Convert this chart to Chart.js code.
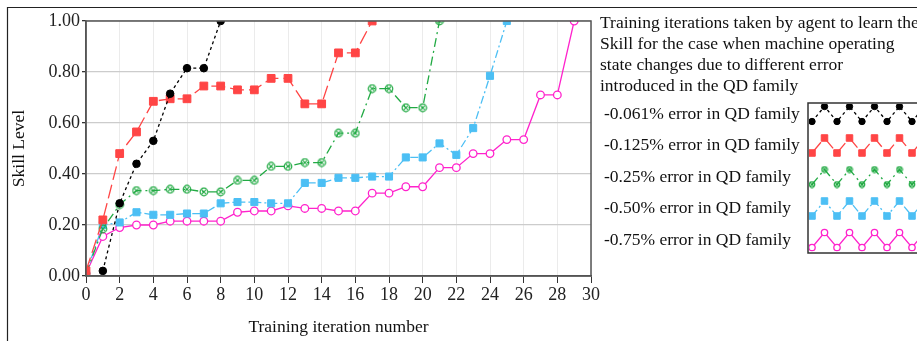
<!DOCTYPE html>
<html>
<head>
<meta charset="utf-8">
<script src="https://cdn.jsdelivr.net/npm/chart.js@4.4.1/dist/chart.umd.min.js"></script>
<style>
  html, body { margin: 0; padding: 0; background: #fff; }
  canvas { display: block; }
</style>
</head>
<body>
<canvas id="skillChart" width="917" height="341"></canvas>
<script>
// iteration numbers on the x axis
const iterations = [0, 1, 2, 3, 4, 5, 6, 7, 8, 9, 10, 11, 12, 13, 14, 15, 16, 17, 18, 19, 20, 21, 22, 23, 24, 25, 26, 27, 28, 29];

// skill level per iteration, one list per error case
const err0061 = [null, 0.02, 0.285, 0.44, 0.53, 0.715, 0.815, 0.815, 1.0];
const err0125 = [0.02, 0.22, 0.48, 0.565, 0.685, 0.695, 0.695, 0.745, 0.745, 0.73, 0.73, 0.775, 0.775, 0.675, 0.675, 0.875, 0.875, 1.0];
const err025 = [0.01, 0.185, 0.28, 0.335, 0.335, 0.34, 0.34, 0.33, 0.33, 0.375, 0.375, 0.43, 0.43, 0.445, 0.445, 0.56, 0.56, 0.735, 0.735, 0.66, 0.66, 1.0];
const err050 = [0.01, 0.2, 0.21, 0.25, 0.24, 0.24, 0.245, 0.245, 0.285, 0.29, 0.29, 0.285, 0.285, 0.365, 0.365, 0.385, 0.385, 0.39, 0.39, 0.465, 0.465, 0.52, 0.475, 0.58, 0.785, 1.0];
const err075 = [0.01, 0.155, 0.19, 0.2, 0.2, 0.215, 0.215, 0.215, 0.215, 0.25, 0.255, 0.255, 0.275, 0.265, 0.265, 0.255, 0.255, 0.325, 0.325, 0.35, 0.35, 0.425, 0.425, 0.48, 0.48, 0.535, 0.535, 0.71, 0.71, 1.0];

const seriesLabels = [
    '-0.061% error in QD family',
    '-0.125% error in QD family',
    '-0.25% error in QD family',
    '-0.50% error in QD family',
    '-0.75% error in QD family'
];
const noteLines = [
    'Training iterations taken by agent to learn the',
    'Skill for the case when machine operating',
    'state changes due to different error',
    'introduced in the QD family'
];
const xTicks = [0, 2, 4, 6, 8, 10, 12, 14, 16, 18, 20, 22, 24, 26, 28, 30];
const yTicks = [0, 0.2, 0.4, 0.6, 0.8, 1.0];

const SERIF = "'Liberation Serif', 'Times New Roman', serif";

function toPoints(values) {
    return values.map((v, i) => ({ x: iterations[i], y: v }));
}

// green marker: circle with a cross inside
function crossCircle(color, size) {
    const c = document.createElement('canvas');
    c.width = size; c.height = size;
    const g = c.getContext('2d');
    const m = size / 2, r = size / 2 - 1.2, d = r * 0.62;
    g.strokeStyle = color;
    g.lineWidth = 1.2;
    g.beginPath();
    g.arc(m, m, r, 0, Math.PI * 2);
    g.stroke();
    g.beginPath();
    g.moveTo(m - d, m - d); g.lineTo(m + d, m + d);
    g.moveTo(m + d, m - d); g.lineTo(m - d, m + d);
    g.stroke();
    return c;
}

const colors = ['#000000', '#ff4545', '#22aa44', '#4cbff4', '#ff22cc'];
const greenMark = crossCircle(colors[2], 10);
const greenMarkSmall = crossCircle(colors[2], 8);

const datasets = [
    { label: seriesLabels[0], data: toPoints(err0061), borderColor: colors[0], backgroundColor: colors[0],
      borderDash: [3, 3], pointStyle: 'circle', pointRadius: 3.8, legendStyle: 'circle', legendRadius: 3.2 },
    { label: seriesLabels[1], data: toPoints(err0125), borderColor: colors[1], backgroundColor: colors[1],
      borderDash: [14, 5], pointStyle: 'rect', pointRadius: 5.5, legendStyle: 'rect', legendRadius: 4.6 },
    { label: seriesLabels[2], data: toPoints(err025), borderColor: colors[2], backgroundColor: '#ffffff',
      borderDash: [9, 4, 2, 4], pointStyle: greenMark, pointRadius: 5, legendStyle: greenMarkSmall, legendRadius: 4 },
    { label: seriesLabels[3], data: toPoints(err050), borderColor: colors[3], backgroundColor: colors[3],
      borderDash: [8, 3, 2, 3], pointStyle: 'rect', pointRadius: 5, legendStyle: 'rect', legendRadius: 4.6 },
    { label: seriesLabels[4], data: toPoints(err075), borderColor: colors[4], backgroundColor: '#ffffff',
      borderDash: [], pointStyle: 'circle', pointRadius: 3.8, pointBorderWidth: 1.3, legendStyle: 'circle', legendRadius: 3.2 }
];
datasets.forEach(ds => {
    ds.borderWidth = 1.3;
    ds.tension = 0;
    ds.spanGaps = false;
    ds.pointBorderColor = ds.borderColor;
    if (ds.pointBorderWidth === undefined) ds.pointBorderWidth = 1;
    ds.pointBackgroundColor = ds.backgroundColor;
});

// frame, outer border, side note and zigzag legend
const decorPlugin = {
    id: 'decor',
    beforeDraw(chart) {
        const ctx = chart.ctx;
        ctx.save();
        ctx.fillStyle = '#fff';
        ctx.fillRect(0, 0, chart.width, chart.height);
        ctx.restore();
    },
    afterDraw(chart) {
        const ctx = chart.ctx;
        const a = chart.chartArea;
        ctx.save();
        // outer border of the figure
        ctx.strokeStyle = '#222';
        ctx.lineWidth = 1.2;
        ctx.beginPath();
        ctx.moveTo(7.5, 345);
        ctx.lineTo(7.5, 7.5);
        ctx.lineTo(920, 7.5);
        ctx.stroke();

        // plot frame
        ctx.strokeStyle = '#555';
        ctx.lineWidth = 1.5;
        ctx.strokeRect(a.left, a.top, a.right - a.left, a.bottom - a.top);

        // side note
        ctx.fillStyle = '#111';
        ctx.font = '17.5px ' + SERIF;
        ctx.textBaseline = 'middle';
        ctx.textAlign = 'left';
        noteLines.forEach((line, i) => ctx.fillText(line, 600, 23 + i * 21.3));

        // legend labels
        const rowY = [114, 145.5, 177, 208.5, 240];
        seriesLabels.forEach((label, i) => ctx.fillText(label, 604, rowY[i]));

        // legend box with zigzag samples
        const boxL = 808, boxT = 103, boxB = 253;
        ctx.strokeStyle = '#333';
        ctx.lineWidth = 1.5;
        ctx.strokeRect(boxL, boxT, 930 - boxL, boxB - boxT);

        ctx.beginPath();
        ctx.rect(boxL + 1, boxT + 1, 917 - boxL, boxB - boxT - 2);
        ctx.clip();
        chart.data.datasets.forEach((ds, i) => {
            const pts = [];
            for (let k = 0; k < 10; k++) {
                pts.push({ x: 812 + k * 12.5, y: rowY[i] + (k % 2 === 0 ? 7.5 : -7.5) });
            }
            ctx.save();
            ctx.strokeStyle = ds.borderColor;
            ctx.lineWidth = ds.borderWidth;
            ctx.setLineDash(ds.borderDash);
            ctx.beginPath();
            pts.forEach((p, k) => k === 0 ? ctx.moveTo(p.x, p.y) : ctx.lineTo(p.x, p.y));
            ctx.stroke();
            ctx.restore();
            pts.forEach(p => {
                ctx.save();
                ctx.fillStyle = ds.pointBackgroundColor;
                ctx.strokeStyle = ds.pointBorderColor;
                ctx.lineWidth = ds.pointBorderWidth;
                Chart.helpers.drawPoint(ctx, {
                    pointStyle: ds.legendStyle,
                    radius: ds.legendRadius,
                    borderWidth: ds.pointBorderWidth,
                    rotation: 0
                }, p.x, p.y);
                ctx.restore();
            });
        });
        ctx.restore();
    }
};

const chart = new Chart(document.getElementById('skillChart').getContext('2d'), {
    type: 'line',
    data: { datasets },
    options: {
        responsive: false,
        animation: false,
        devicePixelRatio: 1,
        layout: { padding: { left: 0, top: 21, right: 326, bottom: 0 } },
        plugins: { legend: { display: false }, tooltip: { enabled: false } },
        scales: {
            x: {
                type: 'linear',
                min: 0,
                max: 30,
                afterFit(scale) { scale.height = 65; },
                afterBuildTicks(scale) { scale.ticks = xTicks.map(v => ({ value: v })); },
                ticks: {
                    color: '#222',
                    padding: 1,
                    maxRotation: 0,
                    autoSkip: false,
                    font: { family: SERIF, size: 18 }
                },
                grid: { color: '#ebebeb', tickColor: '#333', tickLength: 7, drawTicks: true },
                border: { color: '#555', width: 1.5 },
                title: {
                    display: true,
                    text: 'Training iteration number',
                    color: '#111',
                    font: { family: SERIF, size: 17.5 },
                    padding: { top: 4, bottom: 3 }
                }
            },
            y: {
                min: 0,
                max: 1,
                afterFit(scale) { scale.width = 86; },
                afterBuildTicks(scale) { scale.ticks = yTicks.map(v => ({ value: v })); },
                ticks: {
                    color: '#222',
                    padding: 2,
                    font: { family: SERIF, size: 18 },
                    callback: v => Number(v).toFixed(2)
                },
                grid: { color: '#cccccc', lineWidth: 1.3, tickColor: '#333', tickLength: 4 },
                border: { color: '#555', width: 1.5 },
                title: {
                    display: true,
                    text: 'Skill Level',
                    color: '#111',
                    font: { family: SERIF, size: 17.5 },
                    padding: { top: 9, bottom: 4 }
                }
            }
        }
    },
    plugins: [decorPlugin]
});
</script>
</body>
</html>
